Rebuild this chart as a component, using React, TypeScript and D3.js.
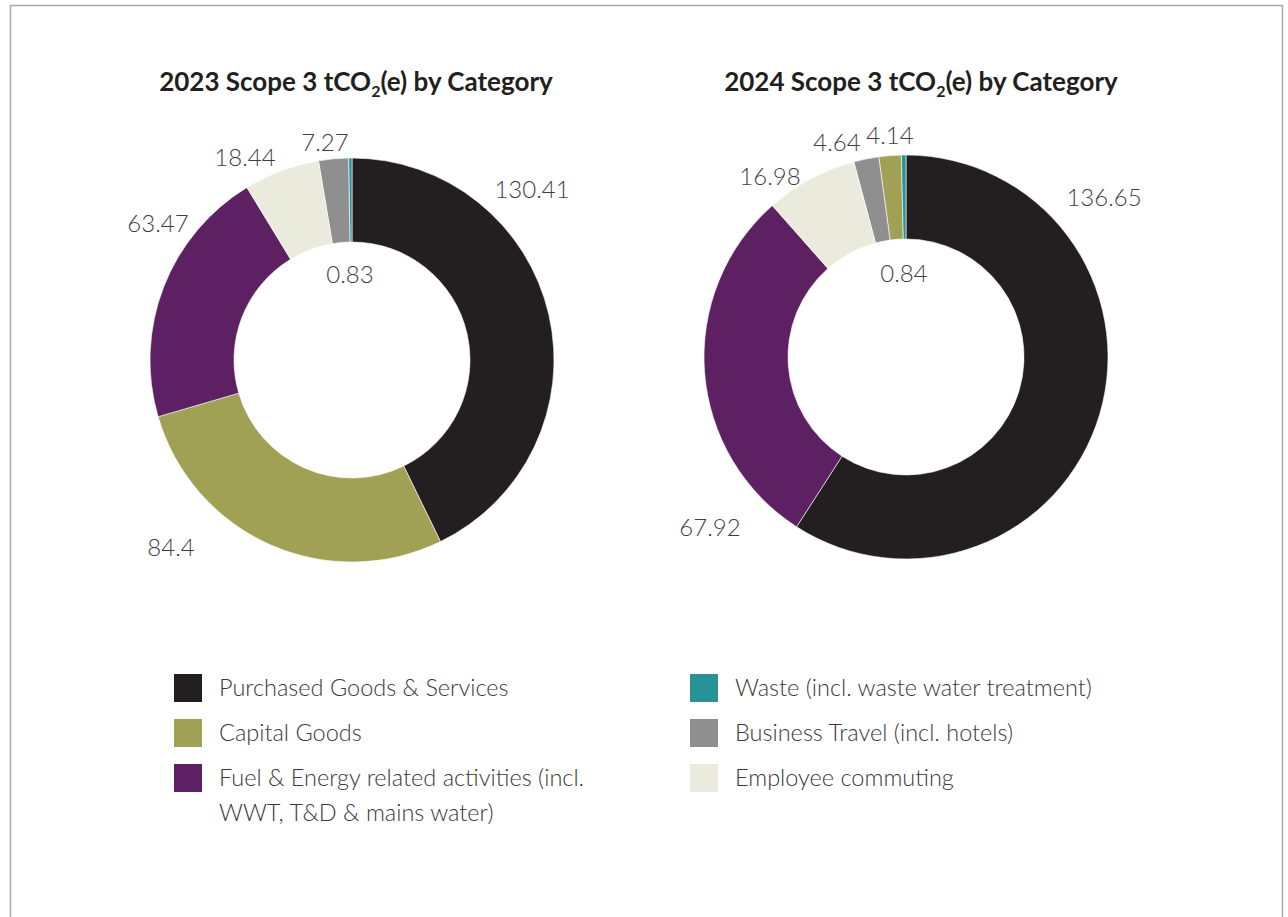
import React from 'react';
import * as d3 from 'd3';

// ---- data ----
const categories = [
  'Purchased Goods & Services',
  'Capital Goods',
  'Fuel & Energy related activities (incl. WWT, T&D & mains water)',
  'Waste (incl. waste water treatment)',
  'Business Travel (incl. hotels)',
  'Employee commuting',
];
const legendLines = [
  ['Purchased Goods & Services'],
  ['Capital Goods'],
  ['Fuel & Energy related activities (incl.', 'WWT, T&D & mains water)'],
  ['Waste (incl. waste water treatment)'],
  ['Business Travel (incl. hotels)'],
  ['Employee commuting'],
];
const colors = ['#231f20', '#a0a155', '#5d2063', '#2a9197', '#8f8f8f', '#eaebdd'];
const years = ['2023', '2024'];
const values2023 = [130.41, 84.4, 63.47, 0.83, 7.27, 18.44];
const values2024 = [136.65, 4.14, 67.92, 0.84, 4.64, 16.98];
const labels2023 = ['130.41', '84.4', '63.47', '0.83', '7.27', '18.44'];
const labels2024 = ['136.65', '4.14', '67.92', '0.84', '4.64', '16.98'];

// ---- layout ----
const W = 1288;
const H = 917;
const OUTER = 202;
const INNER = 118;
const charts = [
  { cx: 352, cy: 360, titleX: 356, values: values2023, labels: labels2023,
    // label offsets from the donut centre (text middle)
    labelPos: [[180, -171], [-181, 187], [-194, -137], [-2, -86], [-27, -218], [-107, -203]] },
  { cx: 906, cy: 357, titleX: 921, values: values2024, labels: labels2024,
    labelPos: [[198, -160], [-16, -222], [-196, 170], [-2, -84], [-69, -215], [-136, -181]] },
];
const legendCols = [174, 690];
const legendRowTop = 674;
const legendRowStep = 45;
const legendSq = 28;

const LIGHT = "'Lato', 'Open Sans', sans-serif";

function Donut({ chart, year }: { chart: any; year: string }) {
  const idx = categories.map((_, i) => i);
  const pie = d3
    .pie<number>()
    .value((i) => chart.values[i])
    .sort((a, b) => chart.values[b] - chart.values[a]);
  const arcs = pie(idx);
  const arcGen = d3.arc<d3.PieArcDatum<number>>().innerRadius(INNER).outerRadius(OUTER);
  return (
    <g>
      <text
        x={chart.titleX}
        y={91}
        textAnchor="middle"
        fontFamily="'Lato', sans-serif"
        fontWeight={700}
        fontSize={26}
        fill="#231f20"
      >
        {year} Scope 3 tCO
        <tspan fontSize={16} dy={6}>2</tspan>
        <tspan dy={-6}>(e) by Category</tspan>
      </text>
      <g transform={`translate(${chart.cx},${chart.cy})`}>
        {arcs.map((a) => (
          <path key={a.data} d={arcGen(a) || ''} fill={colors[a.data]} stroke="#ffffff" strokeWidth={0.6} />
        ))}
        {chart.labels.map((l: string, i: number) => (
          <text
            key={'l' + i}
            x={chart.labelPos[i][0]}
            y={chart.labelPos[i][1]}
            dy="0.36em"
            textAnchor="middle"
            fontFamily={LIGHT}
            fontWeight={300}
            fontSize={24}
            fill="#3f3f3f"
          >
            {l}
          </text>
        ))}
      </g>
    </g>
  );
}

export default function App() {
  return (
    <svg
      width={W}
      height={H}
      style={{ position: 'absolute', left: 0, top: 0, background: '#ffffff' }}
    >
      <rect x={0} y={0} width={W} height={H} fill="#ffffff" />
      <rect x={10.5} y={5.5} width={1272} height={H + 40} fill="none" stroke="#a8a8a8" strokeWidth={1.5} />
      {charts.map((c, i) => (
        <Donut key={i} chart={c} year={years[i]} />
      ))}
      {categories.map((c, i) => {
        const col = Math.floor(i / 3);
        const row = i % 3;
        const x = legendCols[col];
        const y = legendRowTop + row * legendRowStep;
        return (
          <g key={c}>
            <rect x={x} y={y} width={legendSq} height={legendSq} fill={colors[i]} />
            <text
              x={x + 45}
              y={y + 22}
              fontFamily={LIGHT}
              fontWeight={300}
              fontSize={23.5}
              fill="#3a3a3a"
            >
              {legendLines[i].map((t, j) => (
                <tspan key={j} x={x + 45} dy={j === 0 ? 0 : 35}>
                  {t}
                </tspan>
              ))}
            </text>
          </g>
        );
      })}
    </svg>
  );
}
